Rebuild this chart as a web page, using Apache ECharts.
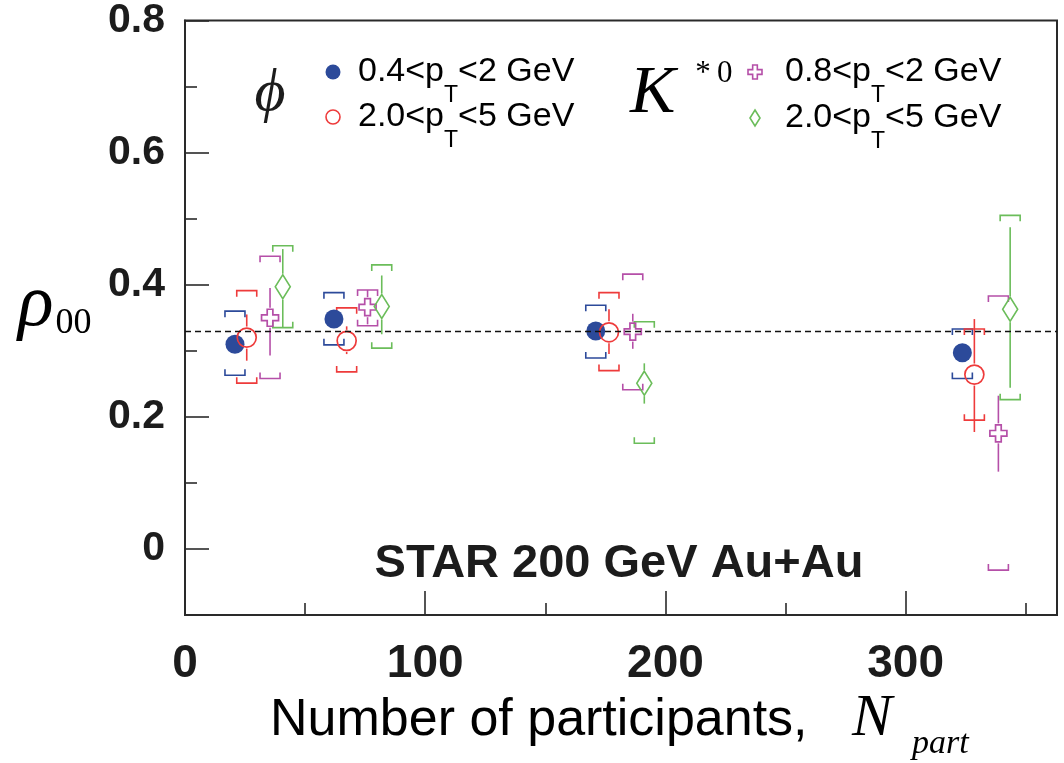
<!DOCTYPE html>
<html><head><meta charset="utf-8">
<script src="https://cdn.jsdelivr.net/npm/echarts@6/dist/echarts.min.js"></script>
<style>html,body{margin:0;padding:0;background:#fff}#c{width:1064px;height:763px}</style>
</head><body><div id="c"></div><script>
// ---- data ----
// phi meson, 0.4<pT<2 GeV
const phiLowN      = [20.8, 62.0, 171.0, 323.6];
const phiLowRho    = [0.310, 0.348, 0.330, 0.297];
const phiLowStatLo = [0.306, 0.344, 0.326, 0.293];
const phiLowStatHi = [0.314, 0.352, 0.334, 0.301];
const phiLowSysLo  = [0.263, 0.309, 0.289, 0.258];
const phiLowSysHi  = [0.360, 0.388, 0.369, 0.333];
// phi meson, 2.0<pT<5 GeV
const phiHighN      = [25.7, 67.3, 176.5, 328.6];
const phiHighRho    = [0.320, 0.315, 0.328, 0.264];
const phiHighStatLo = [0.285, 0.295, 0.295, 0.177];
const phiHighStatHi = [0.355, 0.337, 0.363, 0.348];
const phiHighSysLo  = [0.251, 0.268, 0.270, 0.195];
const phiHighSysHi  = [0.391, 0.365, 0.388, 0.333];
// K*0, 0.8<pT<2 GeV
const kLowN      = [35.4, 76.0, 186.4, 338.6];
const kLowRho    = [0.350, 0.366, 0.329, 0.175];
const kLowStatLo = [0.293, 0.340, 0.303, 0.117];
const kLowStatHi = [0.395, 0.392, 0.356, 0.232];
const kLowSysLo  = [0.258, 0.338, 0.241, -0.032];
const kLowSysHi  = [0.443, 0.392, 0.416, 0.383];
// K*0, 2.0<pT<5 GeV
const kHighN      = [40.7, 81.9, 191.2, 343.5];
const kHighRho    = [0.397, 0.367, 0.251, 0.363];
const kHighStatLo = [0.336, 0.325, 0.220, 0.244];
const kHighStatHi = [0.454, 0.414, 0.281, 0.487];
const kHighSysLo  = [0.335, 0.304, 0.160, 0.226];
const kHighSysHi  = [0.459, 0.430, 0.344, 0.505];

const rhoReference = 1 / 3;
const xTickLabels = ['0', '100', '200', '300'];
const yTickLabels = ['0.8', '0.6', '0.4', '0.2', '0'];   // top to bottom

// ---- styles ----
const BLUE = '#2c4a9a', RED = '#ee3b3b', MAG = '#b54fa8', GREEN = '#6bbd5a';
const TXT = '#1c1c1c';
const SERIF = "'Liberation Serif', 'DejaVu Serif', serif";
const SANS = "'Liberation Sans', Arial, sans-serif";

function zip(N, rho, sLo, sHi, yLo, yHi) {
  return N.map((n, i) => [n, rho[i], sLo[i], sHi[i], yLo[i], yHi[i]]);
}

function errSeries(color, data, gap) {
  return {
    type: 'custom', silent: true, z: 2, data: data,
    encode: { x: 0, y: 1 },
    renderItem: function (params, api) {
      const x = api.value(0);
      const c = api.coord([x, api.value(1)]);
      const sLo = api.coord([x, api.value(2)])[1];
      const sHi = api.coord([x, api.value(3)])[1];
      const yLo = api.coord([x, api.value(4)])[1];
      const yHi = api.coord([x, api.value(5)])[1];
      const st = { stroke: color, lineWidth: 1.6, fill: null };
      const ch = [];
      if (sHi < c[1] - gap) ch.push({ type: 'line', shape: { x1: c[0], y1: sHi, x2: c[0], y2: c[1] - gap }, style: st });
      if (sLo > c[1] + gap) ch.push({ type: 'line', shape: { x1: c[0], y1: c[1] + gap, x2: c[0], y2: sLo }, style: st });
      const hw = 10, leg = 6;
      ch.push({ type: 'polyline', shape: { points: [[c[0] - hw, yHi + leg], [c[0] - hw, yHi], [c[0] + hw, yHi], [c[0] + hw, yHi + leg]] }, style: st });
      ch.push({ type: 'polyline', shape: { points: [[c[0] - hw, yLo - leg], [c[0] - hw, yLo], [c[0] + hw, yLo], [c[0] + hw, yLo - leg]] }, style: st });
      return { type: 'group', children: ch };
    }
  };
}

const CROSS = 'path://M1,0 L2,0 L2,1 L3,1 L3,2 L2,2 L2,3 L1,3 L1,2 L0,2 L0,1 L1,1 Z';

function crossPts(cx, cy, s) {
  const a = s / 6, b = s / 2;
  return [[cx - a, cy - b], [cx + a, cy - b], [cx + a, cy - a], [cx + b, cy - a], [cx + b, cy + a], [cx + a, cy + a],
          [cx + a, cy + b], [cx - a, cy + b], [cx - a, cy + a], [cx - b, cy + a], [cx - b, cy - a], [cx - a, cy - a]];
}

const legRich = {
  a: { fontFamily: SANS, fontSize: 34, color: TXT },
  s: { fontFamily: SANS, fontSize: 23, color: TXT, padding: [48, 0, 0, 0] }
};

const chart = echarts.init(document.getElementById('c'), null, { renderer: 'canvas' });
const axisLineStyle = { color: '#2a2a2a', width: 2 };
const tickStyle = { color: '#2a2a2a', width: 1.6 };

chart.setOption({
  animation: false,
  backgroundColor: '#fff',
  grid: { left: 185, right: 7, top: 19, bottom: 148, show: true, borderColor: '#2a2a2a', borderWidth: 2, backgroundColor: 'transparent' },
  xAxis: [
    { type: 'value', min: 0, max: 363, interval: 100, position: 'bottom',
      axisLine: { onZero: false, lineStyle: axisLineStyle },
      axisTick: { inside: true, length: 24, lineStyle: tickStyle },
      minorTick: { show: true, splitNumber: 2, length: 12, lineStyle: tickStyle },
      splitLine: { show: false },
      axisLabel: { margin: 26, fontFamily: SANS, fontWeight: 'bold', fontSize: 46, color: TXT, showMaxLabel: false,
        formatter: v => { const i = Math.round(v / 100); return (Math.abs(v - i * 100) < 1e-6 && xTickLabels[i] !== undefined) ? xTickLabels[i] : ''; } } }
  ],
  yAxis: [
    // data axis (value scale used by every series)
    { type: 'value', min: -0.1, max: 0.8, position: 'right', show: false,
      axisLine: { onZero: false }, splitLine: { show: false } },
    // tick/label axis: distance below the top (0.8), so ticks fall on 0.8, 0.6, ... 0
    { type: 'value', min: 0, max: 0.9, interval: 0.2, inverse: true, position: 'left',
      axisLine: { show: true, onZero: false, lineStyle: axisLineStyle },
      axisTick: { inside: true, length: 24, lineStyle: tickStyle },
      minorTick: { show: true, splitNumber: 2, length: 12, lineStyle: tickStyle },
      splitLine: { show: false },
      axisLabel: { margin: 20, fontFamily: SANS, fontWeight: 'bold', fontSize: 41, color: TXT, showMaxLabel: false,
        formatter: v => { const i = Math.round(v / 0.2); return (Math.abs(v - i * 0.2) < 1e-6 && yTickLabels[i] !== undefined) ? yTickLabels[i] : ''; } } }
  ],
  series: [
    errSeries(BLUE, zip(phiLowN, phiLowRho, phiLowStatLo, phiLowStatHi, phiLowSysLo, phiLowSysHi), 10),
    errSeries(RED, zip(phiHighN, phiHighRho, phiHighStatLo, phiHighStatHi, phiHighSysLo, phiHighSysHi), 11),
    errSeries(MAG, zip(kLowN, kLowRho, kLowStatLo, kLowStatHi, kLowSysLo, kLowSysHi), 10),
    errSeries(GREEN, zip(kHighN, kHighRho, kHighStatLo, kHighStatHi, kHighSysLo, kHighSysHi), 13),
    { type: 'scatter', name: 'φ 0.4<pT<2 GeV', z: 4, symbol: 'circle', symbolSize: 19,
      itemStyle: { color: BLUE, opacity: 1 }, data: phiLowN.map((n, i) => [n, phiLowRho[i]]),
      markLine: { silent: true, symbol: ['none', 'none'], label: { show: false },
        lineStyle: { type: [6, 4], color: '#111', width: 1.4 }, data: [{ yAxis: rhoReference }] } },
    { type: 'scatter', name: 'φ 2.0<pT<5 GeV', z: 4, symbol: 'circle', symbolSize: 19,
      itemStyle: { color: 'rgba(0,0,0,0)', borderColor: RED, borderWidth: 1.7, opacity: 1 }, data: phiHighN.map((n, i) => [n, phiHighRho[i]]) },
    { type: 'scatter', name: 'K*0 0.8<pT<2 GeV', z: 4, symbol: CROSS, symbolSize: 17,
      itemStyle: { color: 'rgba(0,0,0,0)', borderColor: MAG, borderWidth: 1.7, opacity: 1 }, data: kLowN.map((n, i) => [n, kLowRho[i]]) },
    { type: 'scatter', name: 'K*0 2.0<pT<5 GeV', z: 4, symbol: 'diamond', symbolSize: [15, 24],
      itemStyle: { color: 'rgba(0,0,0,0)', borderColor: GREEN, borderWidth: 1.7, opacity: 1 }, data: kHighN.map((n, i) => [n, kHighRho[i]]) }
  ],
  graphic: [
    // legend
    { type: 'circle', shape: { cx: 333, cy: 72, r: 7.5 }, style: { fill: BLUE } },
    { type: 'circle', shape: { cx: 333, cy: 117, r: 7 }, style: { fill: null, stroke: RED, lineWidth: 1.6 } },
    { type: 'polygon', shape: { points: crossPts(755, 72, 14) }, style: { fill: null, stroke: MAG, lineWidth: 1.6 } },
    { type: 'polygon', shape: { points: [[755, 110], [760, 118], [755, 126], [750, 118]] }, style: { fill: null, stroke: GREEN, lineWidth: 1.6 } },
    { type: 'text', x: 358, y: 72, style: { text: '{a|0.4<p}{s|T}{a|<2 GeV}', rich: legRich, verticalAlign: 'middle', align: 'left' } },
    { type: 'text', x: 358, y: 117, style: { text: '{a|2.0<p}{s|T}{a|<5 GeV}', rich: legRich, verticalAlign: 'middle', align: 'left' } },
    { type: 'text', x: 785, y: 72, style: { text: '{a|0.8<p}{s|T}{a|<2 GeV}', rich: legRich, verticalAlign: 'middle', align: 'left' } },
    { type: 'text', x: 785, y: 118, style: { text: '{a|2.0<p}{s|T}{a|<5 GeV}', rich: legRich, verticalAlign: 'middle', align: 'left' } },
    { type: 'text', x: 270, y: 94, style: { text: 'ϕ', fontFamily: SERIF, fontStyle: 'italic', fontSize: 60, fill: TXT, align: 'center', verticalAlign: 'middle' } },
    { type: 'text', x: 630, y: 94, style: { text: '{k|K}{p|*\u20090}', verticalAlign: 'middle', align: 'left',
      rich: { k: { fontFamily: SERIF, fontStyle: 'italic', fontSize: 68, color: TXT },
              p: { fontFamily: SERIF, fontSize: 31, color: TXT, padding: [0, 0, 40, 20] } } } },
    // in-plot label
    { type: 'text', x: 619, y: 564, style: { text: 'STAR 200 GeV Au+Au', fontFamily: SANS, fontWeight: 'bold', fontSize: 47, fill: TXT, align: 'center', verticalAlign: 'middle' } },
    // axis titles
    { type: 'text', x: 18, y: 306, style: { text: '{r|ρ}{s|00}', verticalAlign: 'middle', align: 'left',
      rich: { r: { fontFamily: SERIF, fontStyle: 'italic', fontSize: 74, color: TXT },
              s: { fontFamily: SERIF, fontSize: 36, color: TXT, padding: [36, 0, 0, 2] } } } },
    { type: 'text', x: 270, y: 721, style: { text: 'Number of participants,', fontFamily: SANS, fontSize: 52, fill: '#000', align: 'left', verticalAlign: 'middle' } },
    { type: 'text', x: 852, y: 719, style: { text: 'N', fontFamily: SERIF, fontStyle: 'italic', fontSize: 60, fill: '#000', align: 'left', verticalAlign: 'middle' } },
    { type: 'text', x: 912, y: 744, style: { text: 'part', fontFamily: SERIF, fontStyle: 'italic', fontSize: 34, fill: '#000', align: 'left', verticalAlign: 'middle' } }
  ]
});
</script></body></html>
